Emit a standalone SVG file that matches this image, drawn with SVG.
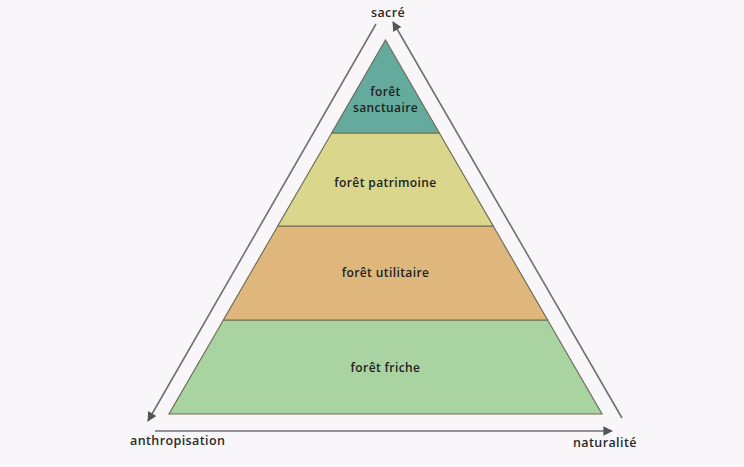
<svg xmlns="http://www.w3.org/2000/svg" width="744" height="467" viewBox="0 0 744 467">
<style>
.layer{stroke:#6f6f58;stroke-width:1.2;stroke-linejoin:miter}
.lbl{font-family:"Open Sans","Liberation Sans",sans-serif;font-size:12px;letter-spacing:0.4px;font-weight:600;fill:#222;text-anchor:middle}
.axis{font-family:"Open Sans","Liberation Sans",sans-serif;font-size:12.5px;letter-spacing:0.4px;font-weight:600;fill:#2a2a2a}
.conn{stroke:#707070;stroke-width:1.6;fill:none}
</style>
<defs>
<marker id="arr" viewBox="0 0 10 10" refX="9" refY="5" markerWidth="6" markerHeight="6" orient="auto" markerUnits="strokeWidth">
<path d="M0,0 L10,5 L0,10 z" fill="#555"/>
</marker>
</defs>
<rect width="744" height="467" fill="#f9f6fa"/>
<g id="connectors">
<line class="conn" x1="376" y1="24" x2="148" y2="421" marker-end="url(#arr)"/>
<line class="conn" x1="622" y1="418" x2="393" y2="22" marker-end="url(#arr)"/>
<line class="conn" x1="155" y1="431" x2="612" y2="431" marker-end="url(#arr)"/>
</g>
<g id="foret-friche">
<polygon class="layer" points="223.4,320 547.6,320 602,414 169,414" fill="#a9d3a1"/>
<text class="lbl" x="385.5" y="372">forêt friche</text>
</g>
<g id="foret-utilitaire">
<polygon class="layer" points="277.8,226 493.2,226 547.6,320 223.4,320" fill="#dfb77d"/>
<text class="lbl" x="385.5" y="277">forêt utilitaire</text>
</g>
<g id="foret-patrimoine">
<polygon class="layer" points="331.7,133 439.3,133 493.2,226 277.8,226" fill="#dad68c"/>
<text class="lbl" x="385.5" y="187">forêt patrimoine</text>
</g>
<g id="foret-sanctuaire">
<polygon class="layer" points="385.5,40 439.3,133 331.7,133" fill="#64ab9e"/>
<text class="lbl" x="385.5" y="96">forêt</text>
<text class="lbl" x="385.5" y="112">sanctuaire</text>
</g>
<g id="sacre"><text class="axis" x="388" y="17" text-anchor="middle">sacré</text></g>
<g id="anthropisation"><text class="axis" x="130" y="445">anthropisation</text></g>
<g id="naturalite"><text class="axis" x="573" y="447">naturalité</text></g>
</svg>
